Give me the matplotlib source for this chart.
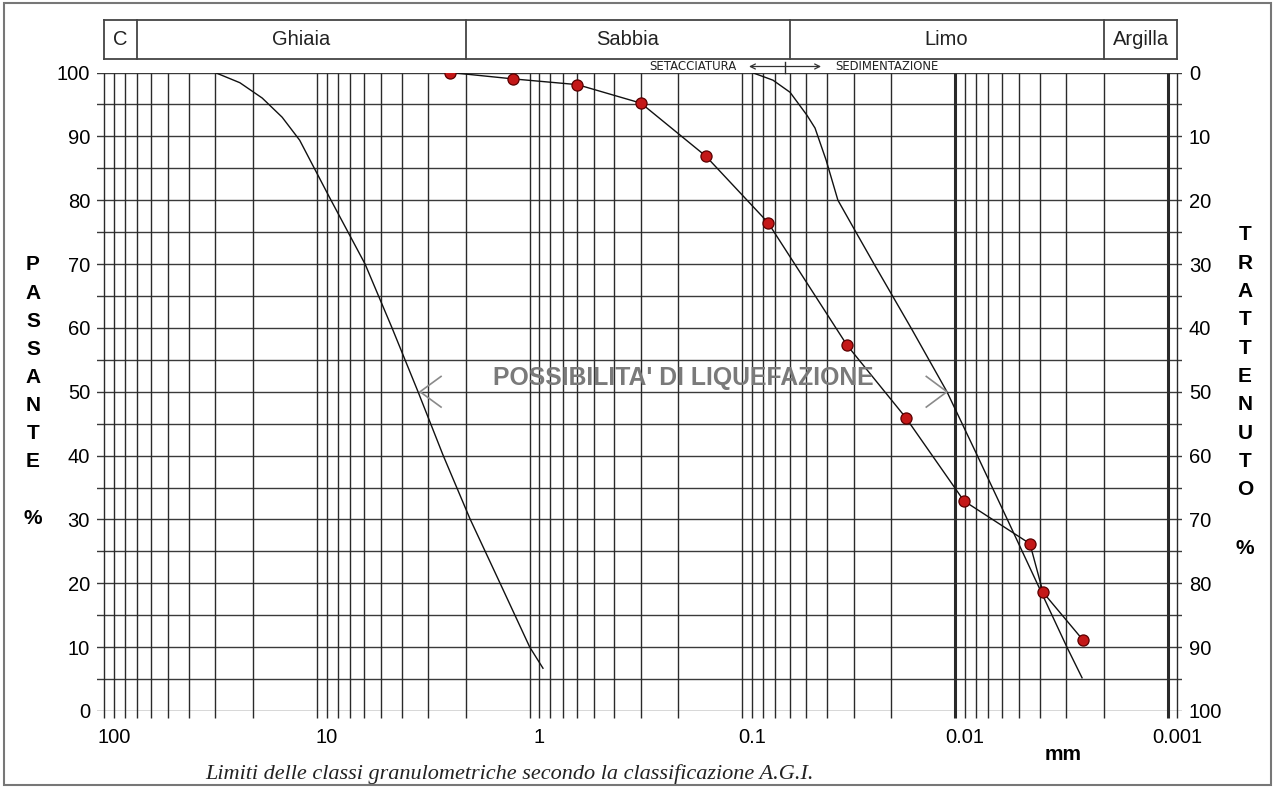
import matplotlib
matplotlib.use("Agg")
import matplotlib.pyplot as plt
import matplotlib.transforms as mtransforms
from matplotlib.patches import Rectangle
import numpy as np

# ---------------- data ----------------
# sample curve (red points): diameter [mm], passing [%]
sample_d = [2.63, 1.33, 0.663, 0.333, 0.165, 0.0842, 0.0358, 0.0189, 0.01009, 0.00494, 0.00429, 0.00278]
sample_p = [100.0, 99.0, 98.1, 95.2, 86.9, 76.5, 57.3, 45.9, 32.9, 26.2, 18.6, 11.1]

# liquefaction limit curves
left_d = [33.5, 25.6, 20.1, 16.2, 13.4, 9.65, 6.60, 4.93, 3.72, 2.84, 2.12, 1.53, 1.11, 0.962]
left_p = [100.0, 98.4, 96.0, 93.0, 89.4, 80.3, 70.0, 60.0, 50.0, 40.1, 30.1, 20.0, 10.0, 6.7]
right_d = [0.1001, 0.0798, 0.0663, 0.0552, 0.0506, 0.0449, 0.0395, 0.0325, 0.0267, 0.0179, 0.01213,
           0.00876, 0.00633, 0.00457, 0.00331, 0.00281]
right_p = [100.0, 98.8, 96.9, 93.3, 91.3, 86.3, 80.0, 75.0, 70.0, 60.0, 50.0,
           40.1, 30.1, 20.0, 10.0, 5.2]

# classes (boundaries in mm, labels)
class_bounds = [111.1, 77.78, 2.222, 0.06667, 0.002222, 0.001]
class_names = ["C", "Ghiaia", "Sabbia", "Limo", "Argilla"]

x_ticks = [100, 10, 1, 0.1, 0.01, 0.001]
x_ticklabels = ["100", "10", "1", "0.1", "0.01", "0.001"]
y_ticks = list(range(0, 101, 10))
bold_lines = [0.01111, 0.001111]

# ---------------- figure ----------------
W, H = 1274, 787
fig = plt.figure(figsize=(W / 100, H / 100), dpi=100)
plt.rcParams['font.family'] = ['Liberation Sans', 'DejaVu Sans']

ax_l, ax_r, ax_top, ax_bot = 97, 1182, 72.5, 711
ax = fig.add_axes([ax_l / W, (H - ax_bot) / H, (ax_r - ax_l) / W, (ax_bot - ax_top) / H])
ax.set_xscale('log')
ax.set_xlim(120.2, 9.524e-4)
ax.set_ylim(0, 100)
for s in ax.spines.values():
    s.set_visible(False)

gridc = '#2a2a2a'
# horizontal grid every 5 %
for yv in range(0, 101, 5):
    ax.axhline(yv, color='#3a3a3a', lw=1.0, zorder=1)

# vertical grid lines (k/9 of each decade)
vlines = []
for e in range(-3, 4):
    for k in range(1, 10):
        v = 10.0 ** e * k / 9.0
        if 0.00099 <= v <= 112:
            vlines.append(v)
for v in vlines:
    lw = 2.2 if any(abs(v / b - 1) < 1e-3 for b in bold_lines) else 1.0
    ax.plot([v, v], [-1.1, 100], color=gridc, lw=lw, zorder=1, clip_on=False,
            solid_capstyle='butt')

# curves
ax.plot(left_d, left_p, color='#111111', lw=1.0, zorder=3)
ax.plot(right_d, right_p, color='#111111', lw=1.0, zorder=3)
ax.plot(sample_d, sample_p, color='#111111', lw=1.0, zorder=3)
ax.plot(sample_d, sample_p, 'o', ms=8.0, mfc='#c41818', mec='#5a0000', mew=0.9, zorder=4)

# ticks
ax.set_xticks(x_ticks)
ax.set_xticklabels(x_ticklabels, fontsize=14.5)
ax.xaxis.set_minor_locator(matplotlib.ticker.NullLocator())
ax.tick_params(axis='x', length=0, pad=12)
ax.set_yticks(y_ticks)
ax.set_yticklabels([str(t) for t in y_ticks], fontsize=14.5)
ax.tick_params(axis='y', length=0, pad=5)
axr = ax.twinx()
axr.set_ylim(0, 100)
for s in axr.spines.values():
    s.set_visible(False)
axr.set_yticks(y_ticks)
axr.set_yticklabels([str(100 - t) for t in y_ticks], fontsize=14.5)
axr.tick_params(axis='y', length=0, pad=5)

# class boxes at the top
btr = mtransforms.blended_transform_factory(ax.transData, fig.transFigure)
by0, by1 = (H - 59) / H, (H - 20) / H
boxc = '#444444'
ax.plot([class_bounds[0], class_bounds[-1]], [by0, by0], color=boxc, lw=1.3, transform=btr, clip_on=False)
ax.plot([class_bounds[0], class_bounds[-1]], [by1, by1], color=boxc, lw=1.3, transform=btr, clip_on=False)
for b in class_bounds:
    ax.plot([b, b], [by0, by1], color=boxc, lw=1.3, transform=btr, clip_on=False)
for i, name in enumerate(class_names):
    xm = np.sqrt(class_bounds[i] * class_bounds[i + 1])
    ax.text(xm, (by0 + by1) / 2, name, transform=btr, ha='center', va='center', fontsize=14.5, color='#222222')

# setacciatura / sedimentazione
sep = 0.0700
ax.plot([sep, sep], [(H - 72.5) / H, (H - 62) / H], color=gridc, lw=1.0, transform=btr, clip_on=False)
ya = (H - 66.5) / H
ax.annotate('', xy=(0.0474, ya), xytext=(0.1034, ya), xycoords=btr, textcoords=btr,
            arrowprops=dict(arrowstyle='<->', color='#333333', lw=0.9, shrinkA=0, shrinkB=0,
                            mutation_scale=9))
ax.text(0.1178, ya, 'SETACCIATURA', transform=btr, ha='right', va='center', fontsize=8.5,
        family='DejaVu Sans', color='#222222')
ax.text(0.04075, ya, 'SEDIMENTAZIONE', transform=btr, ha='left', va='center', fontsize=8.4,
        family='DejaVu Sans', color='#222222')

# liquefaction text + chevrons
ax.text(0.2113, 52.2, "POSSIBILITA' DI LIQUEFAZIONE", ha='center', va='center', fontsize=17.8,
        fontweight='bold', color='#7a7a7a', zorder=5)
ax.plot([2.90, 3.64, 2.90], [52.4, 50.0, 47.6], color='#8a8a8a', lw=1.2, zorder=5)
ax.plot([0.01517, 0.01213, 0.01517], [52.4, 50.0, 47.6], color='#8a8a8a', lw=1.2, zorder=5)

# axis titles (stacked letters)
for i, ch in enumerate("PASSANTE"):
    fig.text(33 / W, (H - (265 + 28.1 * i)) / H, ch, ha='center', va='center', fontsize=15, fontweight='bold')
fig.text(33 / W, (H - 518) / H, '%', ha='center', va='center', fontsize=15, fontweight='bold')
for i, ch in enumerate("TRATTENUTO"):
    fig.text(1245 / W, (H - (235 + 28.3 * i)) / H, ch, ha='center', va='center', fontsize=15, fontweight='bold')
fig.text(1245 / W, (H - 549) / H, '%', ha='center', va='center', fontsize=15, fontweight='bold')

fig.text(1063 / W, (H - 755) / H, 'mm', ha='center', va='center', fontsize=15, fontweight='bold')
fig.text(510 / W, (H - 774) / H, 'Limiti delle classi granulometriche secondo la classificazione A.G.I.',
         ha='center', va='center', fontsize=16, style='italic', family='Liberation Serif', color='#222222')

# outer frame
fig.patches.append(Rectangle((4 / W, 2 / H), (1271 - 4) / W, (784 - 2) / H, transform=fig.transFigure,
                             fill=False, edgecolor='#777777', lw=1.5))

fig.savefig('out.png', dpi=100)
